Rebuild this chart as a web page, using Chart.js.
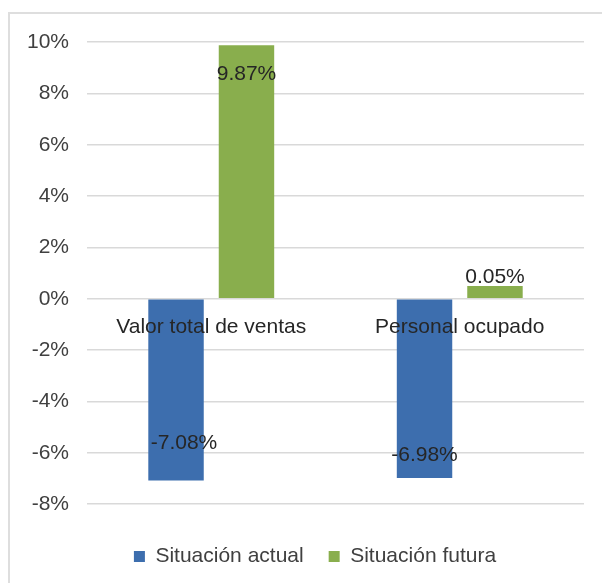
<!DOCTYPE html>
<html>
<head>
<meta charset="utf-8">
<script src="https://cdn.jsdelivr.net/npm/chart.js@4.4.1/dist/chart.umd.min.js"></script>
<style>
  body { margin: 0; background: #fff; }
  #frame { position: absolute; left: 8px; top: 12px; width: 620px; height: 600px; border-left: 2px solid #dedede; border-top: 2px solid #dedede; }
  #wrap { position: absolute; left: 0; top: 0; width: 602px; height: 583px; }
</style>
</head>
<body>
<div id="frame"></div>
<div id="wrap"><canvas id="myChart" width="602" height="583"></canvas></div>
<script>
let categories = ["Valor total de ventas", "Personal ocupado"];
let actual = [-7.08, -6.98];
let futura = [9.87, 0.5];
let actualText = ["-7.08%", "-6.98%"];
let futuraText = ["9.87%", "0.05%"];
let yTicks = [-8, -6, -4, -2, 0, 2, 4, 6, 8, 10];

const FONT = "'Liberation Sans', Arial, sans-serif";

// labels sit where the original put them: shift from the bar end toward the base
let labelShift = [
  [{ dx: 8, dy: 37 }, { dx: 0, dy: 23 }],
  [{ dx: 0, dy: 29 }, { dx: 0, dy: -9 }]
];
let labelText = [actualText, futuraText];

const barLabels = {
  id: "barLabels",
  afterLayout(chart) {
    // legend in the original is centred a bit right of the canvas middle
    chart.legend.left += 9;
    chart.legend.right += 9;
  },
  afterDatasetsDraw(chart) {
    const ctx = chart.ctx;
    ctx.save();
    ctx.font = "21px " + FONT;
    ctx.fillStyle = "#262626";
    ctx.textAlign = "center";
    ctx.textBaseline = "middle";
    chart.data.datasets.forEach((ds, i) => {
      chart.getDatasetMeta(i).data.forEach((bar, j) => {
        const s = labelShift[i][j];
        const y = ds.data[j] < 0 ? bar.y - s.dy : bar.y + s.dy;
        ctx.fillText(labelText[i][j], bar.x + s.dx, y);
      });
    });
    ctx.restore();
  }
};

const ctx = document.getElementById("myChart");
new Chart(ctx, {
  type: "bar",
  data: {
    labels: categories,
    datasets: [
      {
        label: "Situación actual",
        data: actual,
        backgroundColor: "#3d6eae",
        categoryPercentage: 0.567,
        barPercentage: 0.787
      },
      {
        label: "Situación futura",
        data: futura,
        backgroundColor: "#89ae4d",
        categoryPercentage: 0.567,
        barPercentage: 0.787
      }
    ]
  },
  options: {
    responsive: false,
    animation: false,
    layout: { padding: { left: 28, right: 18, top: 42, bottom: 6 } },
    plugins: {
      tooltip: { enabled: false },
      legend: {
        position: "bottom",
        title: { display: true, text: "", padding: 0, font: { size: 14 } },
        labels: {
          boxWidth: 11,
          boxHeight: 11,
          padding: 25,
          color: "#404040",
          font: { family: FONT, size: 21 }
        }
      }
    },
    scales: {
      x: {
        position: { y: 0 },
        grid: { display: false },
        border: { display: false },
        ticks: {
          z: 1,
          color: "#262626",
          padding: 8,
          font: { family: FONT, size: 21 }
        }
      },
      y: {
        min: -8,
        max: 10,
        afterBuildTicks(scale) {
          scale.ticks = yTicks.map(v => ({ value: v }));
        },
        afterFit(scale) {
          scale.width = 59;
        },
        grid: { color: "#d9d9d9", lineWidth: 1.5, drawTicks: false },
        border: { display: false },
        ticks: {
          padding: 18,
          color: "#404040",
          font: { family: FONT, size: 21 },
          callback: v => v + "%"
        }
      }
    }
  },
  plugins: [barLabels]
});
</script>
</body>
</html>
